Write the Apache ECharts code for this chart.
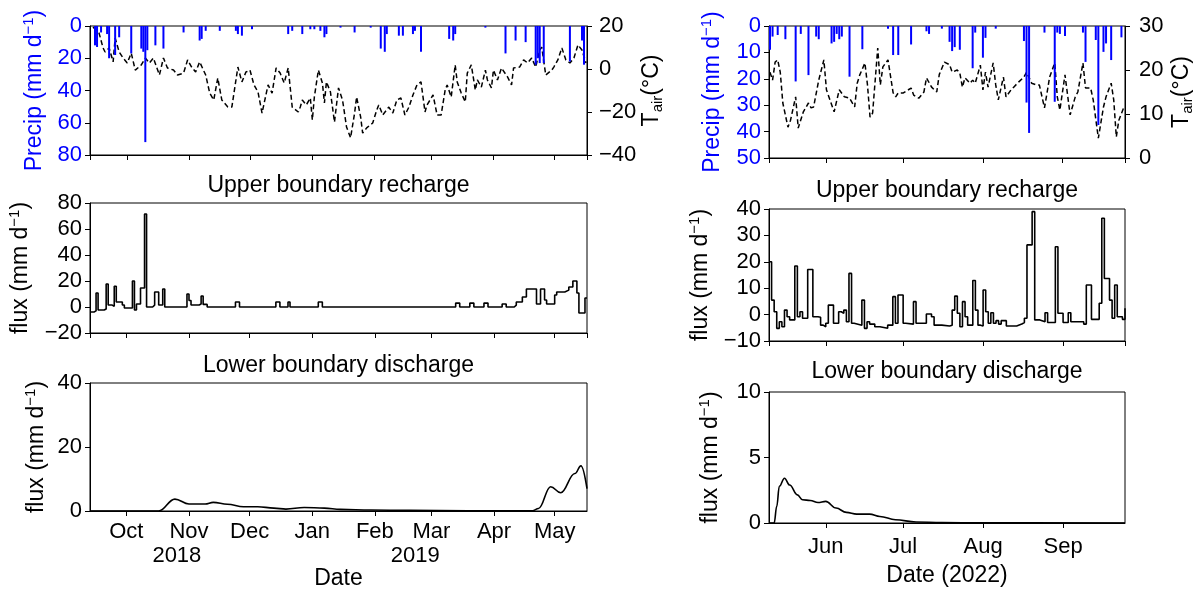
<!DOCTYPE html>
<html><head><meta charset="utf-8">
<script src="https://cdn.jsdelivr.net/npm/echarts@6/dist/echarts.min.js"></script>
<style>html,body{margin:0;padding:0;background:#fff}#c{width:1202px;height:592px}</style>
</head><body><div id="c"></div>
<script>
// ---------- data ----------
const monthNames = ['Jan','Feb','Mar','Apr','May','Jun','Jul','Aug','Sep','Oct','Nov','Dec'];
const leftRange = ['2018-09-13', '2019-05-17'];
const rightRange = ['2022-05-10', '2022-09-25'];
const yearLabels = [['2018-10-26', '2018'], ['2019-02-21', '2019']];
const panelTitles = ['Upper boundary recharge', 'Lower boundary discharge'];

const precipL = [['2018-09-15',12],['2018-09-16',13],['2018-09-18',4],['2018-09-21',5],['2018-09-22',20],['2018-09-25',18],['2018-09-27',7],['2018-10-03',17],['2018-10-08',14],['2018-10-09',16],['2018-10-10',72],['2018-10-11',15],['2018-10-15',12],['2018-10-19',14],['2018-10-29',4],['2018-11-06',9],['2018-11-07',8],['2018-11-09',3],['2018-11-16',3],['2018-11-24',3],['2018-11-25',5],['2018-11-27',6],['2018-12-02',2],['2018-12-20',5],['2018-12-22',3],['2018-12-27',5],['2018-12-31',2],['2019-01-02',2],['2019-01-05',3],['2019-01-07',7],['2019-01-08',5],['2019-01-15',1],['2019-01-22',4],['2019-01-30',1],['2019-02-04',14],['2019-02-06',16],['2019-02-07',5],['2019-02-13',6],['2019-02-15',6],['2019-02-20',5],['2019-02-21',3],['2019-02-24',16],['2019-03-10',8],['2019-03-12',9],['2019-03-13',5],['2019-03-28',1],['2019-04-07',17],['2019-04-12',9],['2019-04-17',10],['2019-04-22',24],['2019-04-23',20],['2019-04-24',23],['2019-04-26',23],['2019-05-09',22],['2019-05-15',9],['2019-05-16',24]];

const tairL = [['2018-09-14',19.5],['2018-09-17',16.7],['2018-09-19',9.8],['2018-09-20',7.9],['2018-09-22',9.8],['2018-09-24',3.3],['2018-09-25',14.4],['2018-09-27',7.9],['2018-09-29',5.1],['2018-10-01',2.8],['2018-10-03',7.4],['2018-10-05',-0.5],['2018-10-08',1.9],['2018-10-10',5.1],['2018-10-12',2.8],['2018-10-14',5.1],['2018-10-17',-2.8],['2018-10-19',5.1],['2018-10-21',0.5],['2018-10-24',-0.5],['2018-10-26',-2.8],['2018-10-29',-1.9],['2018-10-31',4.2],['2018-11-02',0.9],['2018-11-04',-1.4],['2018-11-06',3.3],['2018-11-09',-2.8],['2018-11-11',-11.2],['2018-11-13',-14.4],['2018-11-15',-4.2],['2018-11-17',-14.4],['2018-11-20',-17.7],['2018-11-22',-17.7],['2018-11-25',0.9],['2018-11-27',-6],['2018-11-29',-1.4],['2018-12-01',-0.5],['2018-12-03',-7.4],['2018-12-05',-10.7],['2018-12-07',-20.5],['2018-12-10',-7.4],['2018-12-12',-11.2],['2018-12-14',0.5],['2018-12-16',-1.9],['2018-12-18',-6.5],['2018-12-20',0.5],['2018-12-22',-17.7],['2018-12-25',-20],['2018-12-26',-17.7],['2018-12-27',-14.4],['2018-12-29',-16.7],['2018-12-31',-13.5],['2019-01-01',-23.7],['2019-01-02',-13],['2019-01-04',-0.5],['2019-01-06',-6.5],['2019-01-07',-15.8],['2019-01-08',-6],['2019-01-10',-10.7],['2019-01-12',-24.7],['2019-01-14',-8.8],['2019-01-16',-14.4],['2019-01-18',-27],['2019-01-20',-32],['2019-01-22',-20.5],['2019-01-23',-13],['2019-01-25',-22.3],['2019-01-26',-29.8],['2019-01-28',-27.4],['2019-01-31',-25.1],['2019-02-02',-19.1],['2019-02-03',-16.7],['2019-02-05',-21.4],['2019-02-08',-17.7],['2019-02-10',-20.5],['2019-02-12',-14.4],['2019-02-14',-13.5],['2019-02-16',-21.4],['2019-02-18',-17.7],['2019-02-20',-12.1],['2019-02-22',-7.4],['2019-02-24',-6],['2019-02-26',-20],['2019-02-27',-16.7],['2019-03-02',-12.1],['2019-03-04',-21.4],['2019-03-06',-21.4],['2019-03-08',-9.8],['2019-03-09',-7.4],['2019-03-11',-13],['2019-03-13',1.9],['2019-03-14',-6],['2019-03-16',-11.2],['2019-03-18',-15.3],['2019-03-19',-1.9],['2019-03-21',1.9],['2019-03-23',-9.8],['2019-03-24',-5.1],['2019-03-26',-8.4],['2019-03-28',-0.5],['2019-03-29',-5.1],['2019-03-31',-8.8],['2019-04-01',-0.5],['2019-04-03',-5.1],['2019-04-05',0.5],['2019-04-08',-3.7],['2019-04-10',-7.4],['2019-04-11',0.5],['2019-04-14',0.9],['2019-04-16',4.2],['2019-04-18',2.8],['2019-04-20',5.1],['2019-04-22',0.9],['2019-04-24',8.8],['2019-04-25',10.2],['2019-04-27',-2.8],['2019-04-30',-0.5],['2019-05-01',0.9],['2019-05-03',4.2],['2019-05-05',9.8],['2019-05-07',4.2],['2019-05-09',2.8],['2019-05-11',5.1],['2019-05-13',11.2],['2019-05-15',8.8],['2019-05-17',2.8]];

const upperL = [['2018-09-13',-3.8],['2018-09-15',-3],['2018-09-16',10.8],['2018-09-17',-2.3],['2018-09-20',-1.5],['2018-09-21',17.7],['2018-09-22',1.5],['2018-09-24',0.5],['2018-09-25',16],['2018-09-26',3.8],['2018-09-29',1.5],['2018-09-30',-0.8],['2018-10-04',20],['2018-10-05',-2.3],['2018-10-06',2.3],['2018-10-08',14.6],['2018-10-10',71.5],['2018-10-11',0],['2018-10-14',1.5],['2018-10-15',11.5],['2018-10-17',1.5],['2018-10-19',13.8],['2018-10-20',0],['2018-10-31',10],['2018-11-01',5],['2018-11-02',1.5],['2018-11-06',2.3],['2018-11-07',8.5],['2018-11-08',2],['2018-11-10',0],['2018-11-24',3.8],['2018-11-26',0],['2018-12-14',3.8],['2018-12-16',0],['2018-12-20',3.8],['2018-12-21',0],['2019-01-04',3.8],['2019-01-06',0],['2019-03-13',3],['2019-03-15',0],['2019-03-20',3],['2019-03-22',0],['2019-03-27',3],['2019-03-29',0],['2019-04-05',2.3],['2019-04-07',0],['2019-04-11',1.5],['2019-04-12',3.8],['2019-04-15',7.7],['2019-04-17',13.8],['2019-04-22',2.3],['2019-04-24',13.8],['2019-04-26',5.4],['2019-04-27',2.3],['2019-05-01',9.2],['2019-05-02',11.5],['2019-05-06',13],['2019-05-08',15.4],['2019-05-10',20],['2019-05-12',10.8],['2019-05-13',-4.6],['2019-05-16',6.9],['2019-05-17',6.9]];

const lowerL = [['2018-09-13',0],['2018-10-17',0],['2018-10-25',3.7],['2018-11-01',2.2],['2018-11-09',2.2],['2018-11-13',2.7],['2018-11-20',2.1],['2018-11-28',1.35],['2018-12-05',1.35],['2018-12-13',0.9],['2018-12-19',0.6],['2018-12-28',1.1],['2019-01-07',0.9],['2019-01-15',0.5],['2019-01-30',0.3],['2019-02-18',0.2],['2019-03-19',0.1],['2019-04-20',0.1],['2019-04-23',0.8],['2019-04-29',7.6],['2019-05-04',5.7],['2019-05-11',11.7],['2019-05-14',14.1],['2019-05-17',7.0]];

const precipR = [['2022-05-10',9],['2022-05-11',4],['2022-05-13',3.4],['2022-05-16',5],['2022-05-20',21],['2022-05-22',3],['2022-05-25',18.6],['2022-05-28',4],['2022-05-29',5],['2022-06-03',6.6],['2022-06-04',6],['2022-06-05',3],['2022-06-06',5],['2022-06-07',4],['2022-06-10',19.2],['2022-06-15',8.8],['2022-06-25',1],['2022-06-27',11],['2022-06-29',11],['2022-07-04',7],['2022-07-10',2],['2022-07-11',3],['2022-07-16',1],['2022-07-19',6],['2022-07-20',9.5],['2022-07-21',8],['2022-07-23',9],['2022-07-28',16],['2022-07-29',2.5],['2022-08-01',12],['2022-08-02',4.5],['2022-08-06',1],['2022-08-17',5.7],['2022-08-18',29],['2022-08-19',40.5],['2022-08-25',2.5],['2022-08-29',28.7],['2022-08-30',2.5],['2022-08-31',3],['2022-09-02',3.8],['2022-09-09',2.5],['2022-09-10',13.6],['2022-09-14',5.3],['2022-09-15',37.5],['2022-09-17',9.8],['2022-09-18',6.6],['2022-09-20',12.9],['2022-09-24',4.3]];

const tairR = [['2022-05-10',19.5],['2022-05-11',17.7],['2022-05-12',21.8],['2022-05-13',22.3],['2022-05-14',19.5],['2022-05-15',12.5],['2022-05-17',7],['2022-05-18',8.6],['2022-05-20',13.9],['2022-05-21',6.8],['2022-05-23',10.5],['2022-05-25',12.5],['2022-05-26',11.4],['2022-05-27',11.6],['2022-05-29',17.7],['2022-05-31',22.3],['2022-06-01',15.5],['2022-06-04',10.5],['2022-06-06',15.5],['2022-06-08',13.9],['2022-06-10',13.6],['2022-06-12',11.6],['2022-06-13',17],['2022-06-14',18.9],['2022-06-16',21.6],['2022-06-17',16.6],['2022-06-18',9.3],['2022-06-19',10.2],['2022-06-21',25],['2022-06-22',16.6],['2022-06-23',20.7],['2022-06-25',22.3],['2022-06-27',14.8],['2022-06-28',13.9],['2022-06-29',14.8],['2022-07-01',14.8],['2022-07-04',15.9],['2022-07-05',14.3],['2022-07-07',13.6],['2022-07-09',15],['2022-07-10',18.2],['2022-07-12',16.1],['2022-07-14',15],['2022-07-15',19],['2022-07-17',21.8],['2022-07-19',21.2],['2022-07-20',19.5],['2022-07-22',20],['2022-07-23',19.3],['2022-07-24',16.1],['2022-07-25',18.2],['2022-07-27',17],['2022-07-28',17.7],['2022-07-29',17],['2022-07-31',21.1],['2022-08-01',15.5],['2022-08-02',19.5],['2022-08-03',16.1],['2022-08-05',21.6],['2022-08-06',16.6],['2022-08-07',13.2],['2022-08-09',18.4],['2022-08-10',13.9],['2022-08-12',15.5],['2022-08-13',16.1],['2022-08-15',17.3],['2022-08-17',18.4],['2022-08-18',19.5],['2022-08-20',17],['2022-08-22',16.6],['2022-08-23',16.6],['2022-08-25',11.4],['2022-08-26',14.8],['2022-08-27',18.4],['2022-08-29',21.6],['2022-08-30',13.9],['2022-08-31',10.9],['2022-09-02',18.9],['2022-09-04',9.8],['2022-09-06',13.9],['2022-09-07',15],['2022-09-09',21.6],['2022-09-10',15.9],['2022-09-12',15.9],['2022-09-13',13.2],['2022-09-15',4.5],['2022-09-17',11.6],['2022-09-18',13.9],['2022-09-20',17],['2022-09-21',13.2],['2022-09-22',4.8],['2022-09-23',8.6],['2022-09-25',11.6]];

const upperR = [['2022-05-10',20],['2022-05-11',5.5],['2022-05-12',1.1],['2022-05-13',-5.2],['2022-05-14',-2.7],['2022-05-15',-4.6],['2022-05-16',1.7],['2022-05-17',-0.8],['2022-05-18',-2],['2022-05-20',18.4],['2022-05-21',-0.8],['2022-05-22',1.1],['2022-05-23',-1.4],['2022-05-25',17.1],['2022-05-27',-0.8],['2022-05-29',-1],['2022-05-30',-4],['2022-05-31',-4.6],['2022-06-01',-3.3],['2022-06-02',3.6],['2022-06-04',-3.3],['2022-06-06',1.1],['2022-06-07',0.5],['2022-06-08',1.7],['2022-06-09',-2.7],['2022-06-10',15.6],['2022-06-11',-3.3],['2022-06-12',-4],['2022-06-15',5.5],['2022-06-16',-5.2],['2022-06-17',-2.7],['2022-06-18',-3.6],['2022-06-20',-4.6],['2022-06-22',-5.2],['2022-06-25',-4],['2022-06-27',6.8],['2022-06-28',-3.3],['2022-06-29',7.4],['2022-07-01',-3.3],['2022-07-02',-3.6],['2022-07-05',4.9],['2022-07-06',-3.3],['2022-07-10',0.2],['2022-07-12',-0.8],['2022-07-13',-4],['2022-07-16',-4.3],['2022-07-19',-4],['2022-07-20',1.7],['2022-07-21',7],['2022-07-22',0.5],['2022-07-23',-4.6],['2022-07-24',4.9],['2022-07-25',-0.8],['2022-07-26',-4],['2022-07-28',12.9],['2022-07-29',1.7],['2022-07-30',-4],['2022-07-31',-4.3],['2022-08-01',9.3],['2022-08-02',1.1],['2022-08-03',-3.3],['2022-08-04',0.7],['2022-08-05',-3.3],['2022-08-06',-2.3],['2022-08-07',-3.6],['2022-08-08',-2.3],['2022-08-10',-4.3],['2022-08-14',-3.6],['2022-08-16',-3],['2022-08-17',-1.4],['2022-08-18',26.4],['2022-08-20',39],['2022-08-21',-2],['2022-08-23',-2.7],['2022-08-25',0.7],['2022-08-26',-3],['2022-08-29',25.7],['2022-08-30',0.5],['2022-09-01',-3],['2022-09-03',0.7],['2022-09-04',-2.7],['2022-09-09',-3.6],['2022-09-10',11.2],['2022-09-12',-1.8],['2022-09-15',4.3],['2022-09-16',36.5],['2022-09-17',13.7],['2022-09-19',5.5],['2022-09-20',-1.4],['2022-09-21',11.2],['2022-09-22',-0.8],['2022-09-24',-1.8],['2022-09-25',2.4]];

const lowerR = [['2022-05-10',0],['2022-05-12',0],['2022-05-13',1.27],['2022-05-14',2.8],['2022-05-16',3.42],['2022-05-18',2.9],['2022-05-21',2.15],['2022-05-23',1.77],['2022-05-26',1.72],['2022-05-29',1.57],['2022-06-01',1.65],['2022-06-05',1.14],['2022-06-09',0.81],['2022-06-13',0.68],['2022-06-18',0.68],['2022-06-22',0.5],['2022-06-28',0.25],['2022-07-06',0.08],['2022-07-16',0.03],['2022-08-01',0.01],['2022-09-25',0]];

// ---------- styling / layout ----------
const FF = '"Liberation Sans", Arial, Helvetica, sans-serif';
const BLUE = '#0000ff';
const FS = 22;      // tick labels
const FT = 23;      // titles and axis names
const DAY = 864e5;
const minus = v => String(v).replace('-', '\u2212');

const grids = [
  {left: 90, top: 26, width: 497, height: 129},
  {left: 90, top: 203, width: 497, height: 130},
  {left: 90, top: 383, width: 497, height: 128},
  {left: 769, top: 26, width: 356, height: 132},
  {left: 769, top: 209, width: 356, height: 132},
  {left: 769, top: 392, width: 356, height: 131}
].map(g => Object.assign({show: true, borderColor: '#000', borderWidth: 1, containLabel: false}, g));

function xAx(gi, range, showLabel, margin, name, nameGap) {
  return {
    type: 'time', gridIndex: gi, min: range[0], max: range[1],
    minInterval: 28 * DAY, maxInterval: 31 * DAY,
    axisLine: {show: true, onZero: false, lineStyle: {color: '#000', width: 1}},
    axisTick: {show: true, length: 5, lineStyle: {color: '#000', width: 1}},
    axisLabel: {show: showLabel, margin: margin, fontSize: FS, color: '#000', fontFamily: FF,
      showMinLabel: false, showMaxLabel: false, hideOverlap: false,
      formatter: v => monthNames[new Date(v).getMonth()]},
    splitLine: {show: false},
    name: name || '', nameLocation: 'middle', nameGap: nameGap || 0,
    nameTextStyle: {fontSize: FT, color: '#000', fontFamily: FF}
  };
}

function richName(color) {
  return {
    color: color, fontFamily: FF,
    rich: {
      a: {fontSize: FT, color: color, fontFamily: FF, lineHeight: 27},
      s: {fontSize: 15, color: color, fontFamily: FF, verticalAlign: 'top', lineHeight: 15},
      b: {fontSize: 15, color: color, fontFamily: FF, verticalAlign: 'bottom', lineHeight: 15}
    }
  };
}

function yAx(gi, min, max, interval, o) {
  const color = o.color || '#000';
  return {
    type: 'value', gridIndex: gi, min: min, max: max, interval: interval,
    inverse: !!o.inverse, position: o.position || 'left',
    axisLine: {show: true, lineStyle: {color: '#000', width: 1}},
    axisTick: {show: true, length: 5, lineStyle: {color: '#000', width: 1}},
    axisLabel: {fontSize: FS, color: color, fontFamily: FF, margin: o.margin || 8, formatter: minus},
    splitLine: {show: false},
    name: o.name, nameLocation: 'middle', nameGap: o.nameGap, nameRotate: 90,
    nameTextStyle: richName(color)
  };
}

const precipName = '{a|Precip (mm d}{s|\u22121}{a|)}';
const fluxName = '{a|flux (mm d}{s|\u22121}{a|)}';
const tName = '{a|T}{b|air}{a|(\u00b0C)}';

const xAxes = [
  xAx(0, leftRange, false, 10),
  xAx(1, leftRange, false, 10),
  xAx(2, leftRange, true, 10, 'Date', 56),
  xAx(3, rightRange, false, 13),
  xAx(4, rightRange, false, 13),
  xAx(5, rightRange, true, 13, 'Date (2022)', 41)
];

const yAxes = [
  yAx(0, 0, 80, 20, {inverse: true, color: BLUE, name: precipName, nameGap: 42}),
  yAx(0, -40, 20, 20, {position: 'right', name: tName, nameGap: 48, margin: 12}),
  yAx(1, -20, 80, 20, {name: fluxName, nameGap: 56}),
  yAx(2, 0, 40, 20, {name: fluxName, nameGap: 40}),
  yAx(3, 0, 50, 10, {inverse: true, color: BLUE, name: precipName, nameGap: 43}),
  yAx(3, 0, 30, 10, {position: 'right', name: tName, nameGap: 43, margin: 14}),
  yAx(4, -10, 40, 10, {name: fluxName, nameGap: 55}),
  yAx(5, 0, 10, 5, {name: fluxName, nameGap: 45})
];

const lineBase = {type: 'line', showSymbol: false, symbol: 'none', silent: true, z: 2};
const series = [
  {type: 'bar', xAxisIndex: 0, yAxisIndex: 0, data: precipL, barWidth: 2, itemStyle: {color: BLUE}, z: 3, silent: true},
  Object.assign({}, lineBase, {xAxisIndex: 0, yAxisIndex: 1, data: tairL, lineStyle: {color: '#000', width: 1.5, type: [5, 3]}}),
  Object.assign({}, lineBase, {xAxisIndex: 1, yAxisIndex: 2, data: upperL, step: 'end', lineStyle: {color: '#000', width: 1.6}}),
  Object.assign({}, lineBase, {xAxisIndex: 2, yAxisIndex: 3, data: lowerL, smooth: 0.4, smoothMonotone: 'x', lineStyle: {color: '#000', width: 1.6}}),
  {type: 'bar', xAxisIndex: 3, yAxisIndex: 4, data: precipR, barWidth: 2, itemStyle: {color: BLUE}, z: 3, silent: true},
  Object.assign({}, lineBase, {xAxisIndex: 3, yAxisIndex: 5, data: tairR, lineStyle: {color: '#000', width: 1.5, type: [5, 3]}}),
  Object.assign({}, lineBase, {xAxisIndex: 4, yAxisIndex: 6, data: upperR, step: 'end', lineStyle: {color: '#000', width: 1.6}}),
  Object.assign({}, lineBase, {xAxisIndex: 5, yAxisIndex: 7, data: lowerR, smooth: 0.4, smoothMonotone: 'x', lineStyle: {color: '#000', width: 1.6}})
];

function txt(x, y, t, size) {
  return {type: 'text', x: x, y: y, silent: true,
    style: {text: t, fill: '#000', font: size + 'px ' + FF, textAlign: 'center', textVerticalAlign: 'middle'}};
}

const chart = echarts.init(document.getElementById('c'), null, {renderer: 'canvas'});
chart.setOption({
  animation: false,
  backgroundColor: '#fff',
  grid: grids, xAxis: xAxes, yAxis: yAxes, series: series
});

const cxL = grids[0].left + grids[0].width / 2;
const cxR = grids[3].left + grids[3].width / 2;
const graphics = [
  txt(cxL, 186, panelTitles[0], FT),
  txt(cxR, 191, panelTitles[0], FT),
  txt(cxL, 366, panelTitles[1], FT),
  txt(cxR, 372, panelTitles[1], FT)
];
yearLabels.forEach(function (yl) {
  const px = chart.convertToPixel({xAxisIndex: 2}, yl[0]);
  graphics.push(txt(px, 556, yl[1], FS));
});
chart.setOption({graphic: graphics});
</script>
</body></html>
